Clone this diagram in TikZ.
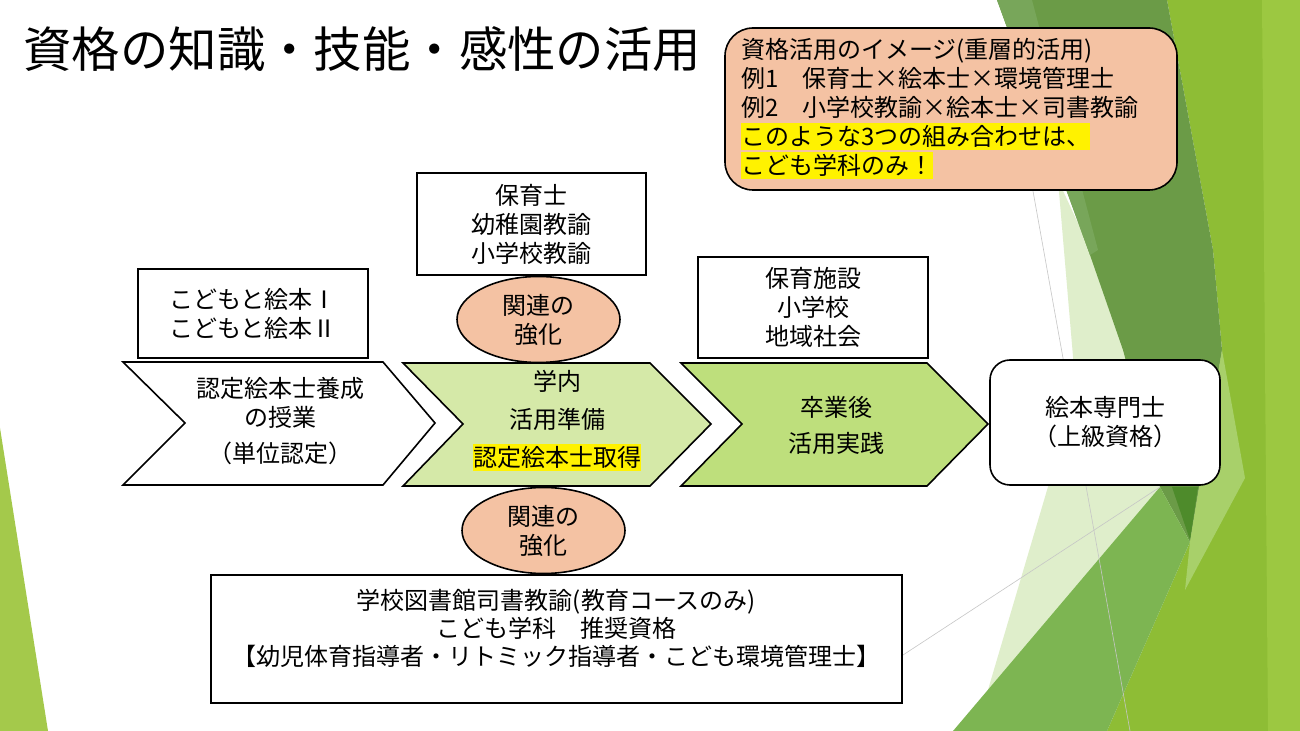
\documentclass[tikz,border=0pt]{standalone}
\usepackage{fontspec}
\setmainfont{Noto Sans CJK JP}
\usetikzlibrary{shapes.geometric}

\definecolor{salmonfill}{HTML}{F4C2A3}
\definecolor{chevlight}{HTML}{D5E9A8}
\definecolor{chevmid}{HTML}{BEDF7C}
\definecolor{facetleaf}{HTML}{A4C94B}
\definecolor{facetdark}{HTML}{6B9B47}
\definecolor{facetstrip}{HTML}{78A65A}
\definecolor{facetlime}{HTML}{8EBD35}
\definecolor{facetbright}{HTML}{9CC841}
\definecolor{facetpale}{HTML}{DFEECB}
\definecolor{facetmid}{HTML}{7DB552}
\definecolor{facetsoft}{HTML}{A8D06A}
\definecolor{facetdeep}{HTML}{4E8B2B}

\newcommand{\bodyfont}{\fontsize{12pt}{14.5pt}\selectfont}
\newcommand{\marker}[1]{{\setlength{\fboxsep}{0pt}\colorbox{yellow}{\rule[-2.2pt]{0pt}{13.5pt}#1}}}

\begin{document}
\begin{tikzpicture}[
  x=0.5pt, y=-0.5pt,
  box/.style={rectangle, draw=black, line width=0.8pt, fill=white,
              align=center, font=\bodyfont, inner sep=0pt},
  roundbox/.style={box, rounded corners=10pt},
  relell/.style={ellipse, draw=black, line width=0.8pt, fill=salmonfill,
                 align=center, font=\bodyfont, inner sep=0pt,
                 minimum width=81.5pt, minimum height=43pt},
  chev/.style={draw=black, line width=0.8pt, line join=miter},
  txt/.style={align=center, font=\bodyfont, inner sep=0pt}
]

\fill[white] (0,0) rectangle (1300,731);
\useasboundingbox (0,0) rectangle (1300,731);

% --- Background facets ---
\fill[facetleaf] (0,428) -- (0,731) -- (48,731) -- cycle;
\fill[facetlime] (1167,0) -- (1300,0) -- (1300,731) -- (1107,731) -- (1190,542)
  -- (1222,350) -- (1213,250) -- cycle;
\fill[facetbright] (1262,0) -- (1300,0) -- (1300,731) -- (1268,731) -- cycle;
\fill[facetpale] (1058,180) -- (1095,260) -- (1135,380) -- (1165,487) -- (1110,560)
  -- (985,700) -- (1050,480) -- (1075,380) -- cycle;
\fill[facetdark] (997,0) -- (1167,0) -- (1213,250) -- (1222,350) -- (1190,542)
  -- (1160,487) -- (1123,350) -- (1090,255) -- cycle;
\fill[facetstrip] (997,0) -- (1032,0) -- (1098,250) -- (1090,255) -- cycle;
\fill[facetmid] (953,731) -- (1160,487) -- (1190,542) -- (1107,731) -- cycle;
\fill[facetsoft] (1222,350) -- (1245,478) -- (1185,590) -- (1190,542) -- cycle;
\fill[facetdeep] (1172,487) -- (1198,487) -- (1190,540) -- cycle;
\draw[gray!45, line width=0.3pt] (1031,180) -- (1130,731);
\draw[gray!45, line width=0.3pt] (903,655) -- (1160,487);

% --- Title ---
\node[anchor=west, inner sep=0pt, font=\fontsize{24.2pt}{28pt}\selectfont] (title)
  at (23,49) {資格の知識・技能・感性の活用};

% --- Combination note ---
\node[roundbox, rounded corners=14pt, fill=salmonfill, align=left, text width=210pt,
      inner xsep=8pt, minimum width=226pt, minimum height=81pt] (combo) at (951,109)
  {資格活用のイメージ(重層的活用)\\例1　保育士×絵本士×環境管理士\\例2　小学校教諭×絵本士×司書教諭\\\marker{このような3つの組み合わせは、}\\\marker{こども学科のみ！}};

% --- Chevron row ---
\draw[chev, fill=white] (123,362) -- (383,362) -- (435,423) -- (383,485) -- (123,485)
  -- (185,423) -- cycle;
\draw[chev, fill=chevlight] (403,363) -- (650,363) -- (711,424) -- (650,486) -- (403,486)
  -- (463,424) -- cycle;
\draw[chev, fill=chevmid] (681,363) -- (927,363) -- (988,424) -- (927,486) -- (681,486)
  -- (742,424) -- cycle;

\node[txt] (train)    at (280,421) {認定絵本士養成\\の授業\\[3.5pt]（単位認定）};
\node[txt] (prep)     at (557,421) {学内\\[4.5pt]活用準備\\[4.5pt]\marker{認定絵本士取得}};
\node[txt] (practice) at (836,425) {卒業後\\[3.5pt]活用実践};

% --- Boxes above and after ---
\node[box, minimum width=115pt, minimum height=44.5pt] (course) at (253,313.5)
  {こどもと絵本Ⅰ\\こどもと絵本Ⅱ};
\node[box, minimum width=114.5pt, minimum height=51pt] (licence) at (531.5,224)
  {保育士\\幼稚園教諭\\小学校教諭};
\node[box, minimum width=115pt, minimum height=50.5pt] (field) at (813,307.5)
  {保育施設\\小学校\\地域社会};
\node[roundbox, minimum width=115pt, minimum height=62.5pt] (expert) at (1105,422.5)
  {絵本専門士\\（上級資格）};

% --- Links ---
\node[relell] (linkup)   at (538.5,319.5) {関連の\\強化};
\node[relell] (linkdown) at (543.5,530.5) {関連の\\強化};

% --- Recommended qualifications ---
\node[box, minimum width=345.5pt, minimum height=64pt] (recommend) at (556.5,639) {};
\node[txt, anchor=north, font=\fontsize{12pt}{14pt}\selectfont] (recommendtxt)
  at ([yshift=-7.5pt]recommend.north)
  {学校図書館司書教諭(教育コースのみ)\\こども学科　推奨資格\\【幼児体育指導者・リトミック指導者・こども環境管理士】};

\end{tikzpicture}
\end{document}
